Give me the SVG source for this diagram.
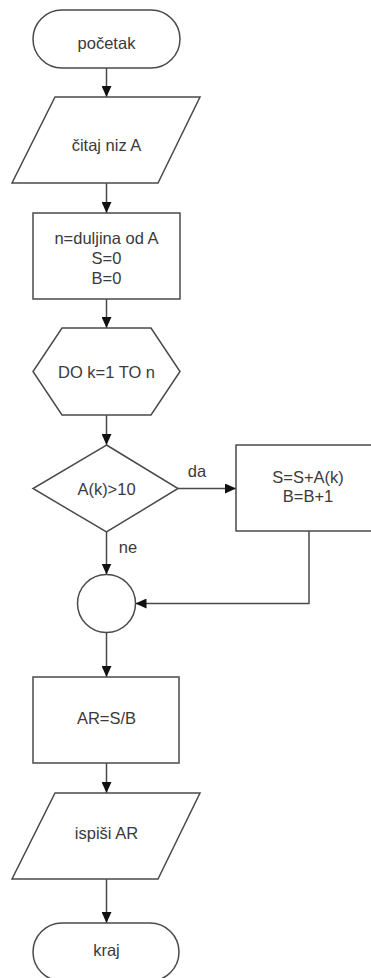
<svg xmlns="http://www.w3.org/2000/svg" width="371" height="978" viewBox="0 0 371 978">
<style>
.s{fill:#fff;stroke:#4a4a4a;stroke-width:1.5}
.c{fill:none;stroke:#4a4a4a;stroke-width:1.5}
text{font-family:"Liberation Sans",Arial,sans-serif;font-size:16.5px;fill:#3a3a3a;text-anchor:middle}
</style>
<defs>
<marker id="ah" markerUnits="userSpaceOnUse" markerWidth="11" markerHeight="10" refX="11" refY="5" orient="auto">
<path d="M0,0 L11,5 L0,10 z" fill="#111"/>
</marker>
</defs>
<rect width="371" height="978" fill="#fff"/>
<g id="connectors">
<line class="c" x1="106.5" y1="68" x2="106.5" y2="97" marker-end="url(#ah)"/>
<line class="c" x1="106.5" y1="183" x2="106.5" y2="213" marker-end="url(#ah)"/>
<line class="c" x1="106.5" y1="299" x2="106.5" y2="328" marker-end="url(#ah)"/>
<line class="c" x1="106.5" y1="415" x2="106.5" y2="445" marker-end="url(#ah)"/>
<line class="c" x1="178" y1="488.5" x2="236" y2="488.5" marker-end="url(#ah)"/>
<line class="c" x1="106.5" y1="532" x2="106.5" y2="574.5" marker-end="url(#ah)"/>
<polyline class="c" points="309,531 309,603.5 135.5,603.5" marker-end="url(#ah)"/>
<line class="c" x1="106.5" y1="632.5" x2="106.5" y2="677" marker-end="url(#ah)"/>
<line class="c" x1="106.5" y1="763" x2="106.5" y2="793" marker-end="url(#ah)"/>
<line class="c" x1="106.5" y1="879" x2="106.5" y2="923" marker-end="url(#ah)"/>
<text x="197" y="477">da</text>
<text x="128" y="553">ne</text>
</g>
<g id="start">
<rect class="s" x="33" y="10" width="147" height="58" rx="29"/>
<text x="106.5" y="49">početak</text>
</g>
<g id="read">
<polygon class="s" points="55,97 200,97 158,183 12,183"/>
<text x="106.5" y="151">čitaj niz A</text>
</g>
<g id="init">
<rect class="s" x="33" y="213" width="147" height="86"/>
<text x="106.5" y="244">n=duljina od A</text>
<text x="106.5" y="264">S=0</text>
<text x="106.5" y="284">B=0</text>
</g>
<g id="loop">
<polygon class="s" points="62,328 151,328 180,371.5 151,415 62,415 33,371.5"/>
<text x="106.5" y="377.5">DO k=1 TO n</text>
</g>
<g id="cond">
<polygon class="s" points="106.5,445 178,488.5 106.5,532 33,488.5"/>
<text x="106.5" y="494.5">A(k)&gt;10</text>
</g>
<g id="sum">
<rect class="s" x="236" y="445" width="144" height="86"/>
<text x="308" y="483">S=S+A(k)</text>
<text x="308" y="502">B=B+1</text>
</g>
<g id="join">
<circle class="s" cx="106.5" cy="603.5" r="29"/>
</g>
<g id="avg">
<rect class="s" x="33" y="677" width="146" height="86"/>
<text x="106.5" y="724">AR=S/B</text>
</g>
<g id="print">
<polygon class="s" points="55,793 200,793 158,879 12,879"/>
<text x="106.5" y="839">ispiši AR</text>
</g>
<g id="end">
<rect class="s" x="33" y="923" width="146" height="58" rx="29"/>
<text x="106.5" y="956">kraj</text>
</g>
</svg>
